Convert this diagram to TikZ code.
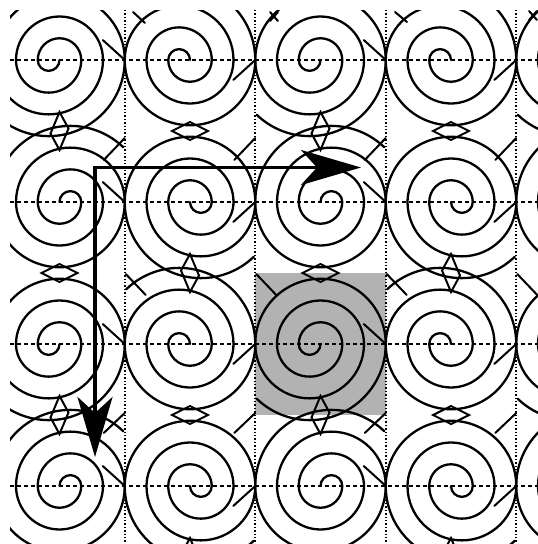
\documentclass[tikz,border=0pt]{standalone}
\usetikzlibrary{arrows.meta}
\begin{document}
\begin{tikzpicture}[x=1pt, y=1pt,
    spiral/.style={line width=2.3pt, line cap=round, line join=round},
    front/.style={line width=2pt, line cap=round, line join=miter},
    rowline/.style={line width=1.2pt, dash pattern=on 4pt off 3pt},
    colline/.style={line width=1.6pt, dash pattern=on 1.4pt off 2pt},
    unitcell/.style={fill=black!30},
    lattice/.style={line width=3.6pt, >={Stealth[length=60pt, width=35pt, inset=16pt]}, <->}]
    \useasboundingbox (0,0) rectangle (538,-544);
    \begin{scope}
        \clip (10,-10) rectangle (538,-544);
        % unit cell
        \fill[unitcell] (255.25,-273) rectangle (385.75,-415);
        % grid
        \foreach \r in {60,202,344,486}
            \draw[rowline] (10,-\r) -- (538,-\r);
        \foreach \c in {124.75,255.25,385.75,516.25}
            \draw[colline] (\c,-10) -- (\c,-544);
        % spirals
        \foreach \i in {0,...,5}{
            \foreach \j in {0,...,5}{
                \pgfmathsetmacro{\cx}{59.5+130.5*(\i-1)}
                \pgfmathsetmacro{\cy}{-60-142*(\j-1)}
                \pgfmathsetmacro{\sx}{isodd(\j) ? -1 : 1}
                \pgfmathsetmacro{\sy}{isodd(\i+\j) ? -1 : 1}
                \begin{scope}[shift={(\cx,\cy)}, xscale=\sx, yscale=\sy]
                    \draw[spiral] (0,0) arc[start angle=180, end angle=360, radius=10.875]
                        arc[start angle=0, end angle=180, radius=21.75]
                        arc[start angle=180, end angle=360, radius=32.625]
                        arc[start angle=0, end angle=180, radius=43.5]
                        arc[start angle=180, end angle=360, radius=54.375]
                        arc[start angle=0, end angle=180, radius=65.25]
                        arc[start angle=180, end angle=314, radius=76.125];
                \end{scope}
            }
        }
        % collision diamonds
        \foreach \i in {1,...,4}{
            \foreach \j in {0,...,4}{
                \pgfmathsetmacro{\cx}{59.5+130.5*(\i-1)}
                \pgfmathsetmacro{\yg}{-131-142*(\j-1)}
                \pgfmathsetmacro{\tl}{isodd(\j) ? 2.5 : -2.5}
                \pgfmathtruncatemacro{\pty}{\i+\j}
                \ifodd\pty
                    \draw[front] (\cx-18,\yg) -- (\cx,\yg+9) -- (\cx+18,\yg) -- (\cx,\yg-9) -- cycle;
                \else
                    \draw[front] (\cx,\yg+19) -- (\cx+9,\yg+\tl) -- (\cx,\yg-19) -- (\cx-9,\yg-\tl) -- cycle;
                \fi
            }
        }
        % collision lines at the contact points
        \foreach \j in {0,...,5}{
            \pgfmathsetmacro{\cy}{-60-142*(\j-1)}
            \foreach \c in {124.75,385.75}
                \draw[front] (\c-22,\cy+20) -- (\c-1,\cy+1);
            \foreach \c in {255.25,516.25}
                \draw[front] (\c,\cy) -- (\c-22,\cy-20);
        }
        \foreach \c in {124.75,255.25,385.75,516.25}{
            \draw[front] (\c,-138) -- (\c-21,-160);
            \draw[front] (\c+1,-274) -- (\c+21,-295);
            \draw[front] (\c,-413) -- (\c-21,-433);
        }
        \draw[front] (133,-12) -- (145,-23);
        \draw[front] (395,-12) -- (407,-22);
        \draw[front] (270,-12) -- (278,-21) (270,-21) -- (278,-12);
        \draw[front] (529,-11) -- (537,-20) (529,-20) -- (537,-11);
    \end{scope}
    % lattice vectors
    \coordinate (corner) at (95,-167.5);
    \coordinate (a1) at (361,-167.5);
    \coordinate (a2) at (95,-457);
    \draw[lattice] (a1) -- (corner) -- (a2);
\end{tikzpicture}
\end{document}
